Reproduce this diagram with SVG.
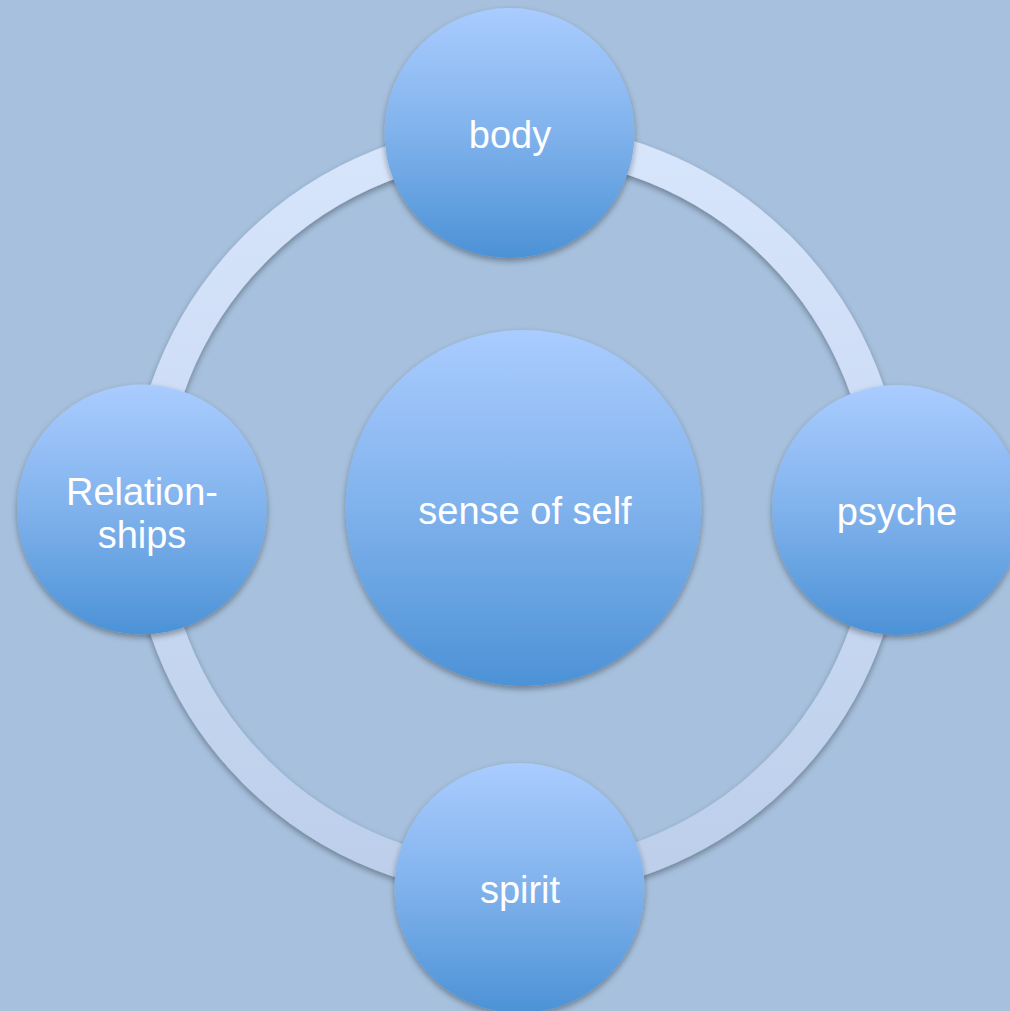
<svg xmlns="http://www.w3.org/2000/svg" width="1010" height="1011" viewBox="0 0 1010 1011">
<defs>
<linearGradient id="nodeGrad" x1="0" y1="0" x2="0" y2="1">
<stop offset="0" stop-color="#AACCFF"/>
<stop offset="0.5" stop-color="#80B2EC"/>
<stop offset="1" stop-color="#4C92D6"/>
</linearGradient>
<linearGradient id="ringGrad" gradientUnits="userSpaceOnUse" x1="0" y1="123" x2="0" y2="897">
<stop offset="0" stop-color="#D8E6FC"/>
<stop offset="1" stop-color="#BCCEEA"/>
</linearGradient>
<filter id="shadow" x="-20%" y="-20%" width="140%" height="140%">
<feGaussianBlur in="SourceAlpha" stdDeviation="3"/>
<feOffset dx="0" dy="3" result="b"/>
<feComponentTransfer><feFuncA type="linear" slope="0.35"/></feComponentTransfer>
<feMerge><feMergeNode/><feMergeNode in="SourceGraphic"/></feMerge>
</filter>
</defs>
<style>
.node{fill:url(#nodeGrad);filter:url(#shadow);}
.lbl{font-family:"Liberation Sans",Arial,sans-serif;font-size:38px;fill:#FFFFFF;text-anchor:middle;}
</style>
<rect width="1010" height="1011" fill="#A6C0DD"/>
<g id="connectors">
<circle cx="517" cy="510" r="370" fill="none" stroke="url(#ringGrad)" stroke-width="34" filter="url(#shadow)"/>
</g>
<g id="center">
<circle class="node" cx="523.5" cy="508" r="178"/>
<text class="lbl" x="525" y="524">sense of self</text>
</g>
<g id="body">
<circle class="node" cx="509.5" cy="133" r="125"/>
<text class="lbl" x="510" y="148">body</text>
</g>
<g id="psyche">
<circle class="node" cx="897" cy="510" r="125"/>
<text class="lbl" x="897" y="525">psyche</text>
</g>
<g id="spirit">
<circle class="node" cx="519.5" cy="888" r="125"/>
<text class="lbl" x="520" y="903">spirit</text>
</g>
<g id="relationships">
<circle class="node" cx="142" cy="509.5" r="125"/>
<text class="lbl" x="142" y="505">Relation-</text>
<text class="lbl" x="142" y="548">ships</text>
</g>
</svg>
